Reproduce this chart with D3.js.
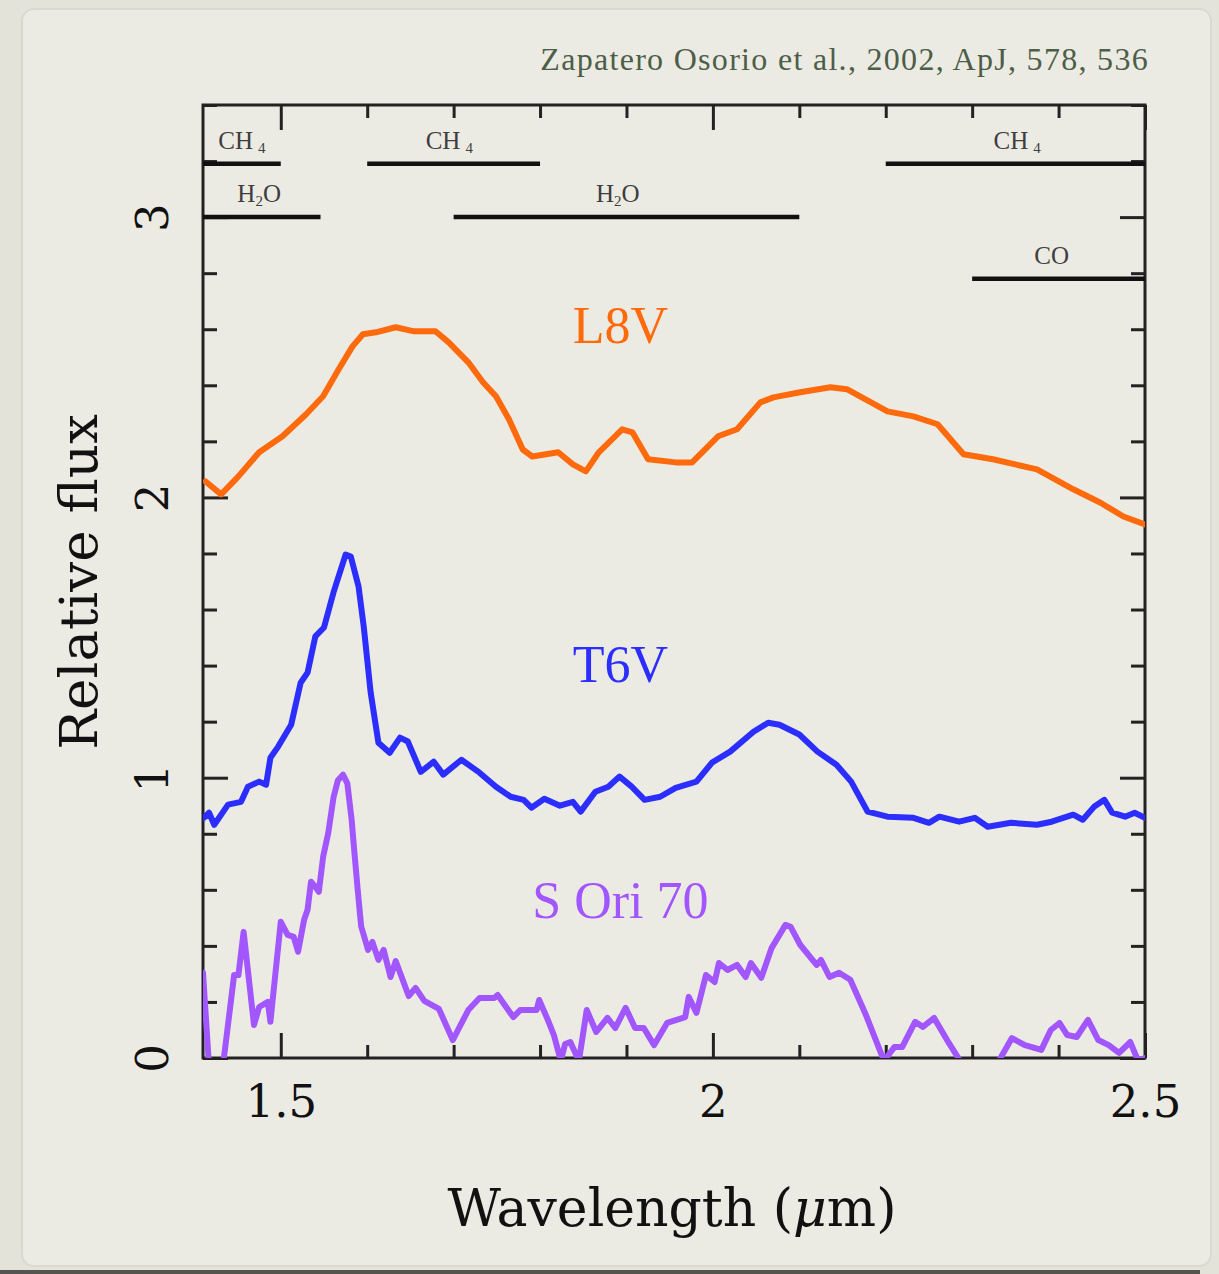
<!DOCTYPE html>
<html>
<head>
<meta charset="utf-8">
<script src="https://cdn.jsdelivr.net/npm/d3@7"></script>
<style>
  html, body { margin: 0; padding: 0; background: #e4e3da; }
  svg { display: block; }
</style>
</head>
<body>
<svg id="chart"></svg>
<script>
// spectra (wavelength in micron, relative flux)
const l8vWave = [1.413, 1.431, 1.451, 1.475, 1.502, 1.529, 1.549, 1.567, 1.583, 1.595, 1.610, 1.633, 1.653, 1.679, 1.694, 1.717, 1.734, 1.749, 1.764, 1.780, 1.791, 1.821, 1.838, 1.853, 1.868, 1.895, 1.907, 1.925, 1.957, 1.976, 2.006, 2.028, 2.055, 2.070, 2.101, 2.136, 2.155, 2.202, 2.232, 2.260, 2.290, 2.324, 2.375, 2.417, 2.448, 2.475, 2.500];
const l8vFlux = [2.057, 2.011, 2.075, 2.161, 2.218, 2.296, 2.361, 2.457, 2.539, 2.582, 2.589, 2.607, 2.593, 2.593, 2.554, 2.482, 2.411, 2.361, 2.279, 2.171, 2.146, 2.161, 2.118, 2.093, 2.161, 2.243, 2.232, 2.136, 2.125, 2.125, 2.218, 2.243, 2.339, 2.357, 2.375, 2.393, 2.386, 2.307, 2.289, 2.261, 2.154, 2.136, 2.100, 2.029, 1.982, 1.932, 1.904];

const t6vWave = [1.411, 1.417, 1.423, 1.439, 1.454, 1.462, 1.475, 1.483, 1.488, 1.497, 1.512, 1.523, 1.531, 1.540, 1.550, 1.561, 1.575, 1.581, 1.590, 1.596, 1.604, 1.613, 1.626, 1.638, 1.647, 1.662, 1.677, 1.688, 1.709, 1.730, 1.749, 1.766, 1.781, 1.790, 1.805, 1.823, 1.838, 1.847, 1.864, 1.879, 1.892, 1.906, 1.921, 1.939, 1.957, 1.981, 1.999, 2.020, 2.047, 2.064, 2.077, 2.100, 2.121, 2.143, 2.160, 2.179, 2.202, 2.232, 2.250, 2.262, 2.285, 2.303, 2.318, 2.345, 2.375, 2.392, 2.417, 2.428, 2.441, 2.453, 2.462, 2.477, 2.488, 2.500];
const t6vFlux = [0.857, 0.875, 0.832, 0.904, 0.914, 0.968, 0.986, 0.975, 1.071, 1.111, 1.189, 1.339, 1.375, 1.504, 1.536, 1.661, 1.796, 1.789, 1.682, 1.539, 1.304, 1.125, 1.089, 1.143, 1.129, 1.021, 1.057, 1.011, 1.064, 1.018, 0.968, 0.932, 0.921, 0.893, 0.925, 0.900, 0.914, 0.879, 0.950, 0.968, 1.004, 0.968, 0.921, 0.932, 0.964, 0.986, 1.054, 1.093, 1.164, 1.196, 1.189, 1.154, 1.093, 1.046, 0.986, 0.879, 0.861, 0.857, 0.839, 0.861, 0.843, 0.857, 0.825, 0.839, 0.832, 0.843, 0.868, 0.850, 0.896, 0.921, 0.875, 0.861, 0.875, 0.857];

const soriWave = [1.410, 1.417, 1.433, 1.446, 1.451, 1.457, 1.469, 1.475, 1.485, 1.488, 1.500, 1.508, 1.515, 1.520, 1.527, 1.531, 1.535, 1.540, 1.544, 1.549, 1.555, 1.561, 1.566, 1.572, 1.577, 1.582, 1.585, 1.589, 1.593, 1.601, 1.606, 1.613, 1.619, 1.627, 1.633, 1.648, 1.656, 1.666, 1.683, 1.699, 1.717, 1.730, 1.747, 1.751, 1.769, 1.777, 1.796, 1.799, 1.809, 1.816, 1.824, 1.829, 1.835, 1.845, 1.854, 1.865, 1.878, 1.887, 1.899, 1.910, 1.920, 1.932, 1.947, 1.968, 1.972, 1.981, 1.992, 2.002, 2.007, 2.017, 2.028, 2.038, 2.044, 2.056, 2.068, 2.084, 2.090, 2.101, 2.120, 2.125, 2.135, 2.146, 2.159, 2.177, 2.198, 2.210, 2.219, 2.234, 2.243, 2.256, 2.271, 2.286, 2.303, 2.321, 2.331, 2.346, 2.361, 2.380, 2.391, 2.401, 2.410, 2.421, 2.434, 2.446, 2.458, 2.470, 2.483, 2.492, 2.500];
const soriFlux = [0.304, -0.03, -0.03, 0.296, 0.296, 0.450, 0.118, 0.182, 0.200, 0.129, 0.486, 0.439, 0.432, 0.379, 0.493, 0.529, 0.629, 0.611, 0.593, 0.718, 0.804, 0.929, 0.990, 1.011, 0.980, 0.850, 0.740, 0.600, 0.470, 0.386, 0.414, 0.350, 0.386, 0.289, 0.346, 0.221, 0.250, 0.204, 0.175, 0.064, 0.171, 0.214, 0.214, 0.225, 0.146, 0.171, 0.171, 0.207, 0.136, 0.082, -0.01, 0.050, 0.057, -0.01, 0.171, 0.093, 0.143, 0.107, 0.179, 0.107, 0.107, 0.046, 0.125, 0.146, 0.218, 0.161, 0.296, 0.271, 0.339, 0.314, 0.332, 0.289, 0.339, 0.286, 0.393, 0.475, 0.468, 0.404, 0.332, 0.350, 0.289, 0.304, 0.279, 0.154, -0.01, 0.039, 0.039, 0.129, 0.111, 0.143, 0.064, -0.01, -0.08, -0.06, -0.01, 0.071, 0.046, 0.029, 0.100, 0.125, 0.082, 0.075, 0.136, 0.064, 0.046, 0.018, 0.057, -0.01, 0.0];

// absorption bands along the top
const bandNames = ["CH4", "CH4", "CH4", "H2O", "H2O", "CO"];
const bandStart = [1.41, 1.60, 2.20, 1.41, 1.70, 2.30];
const bandEnd = [1.50, 1.80, 2.50, 1.546, 2.10, 2.50];
const bandLevel = [3.19, 3.19, 3.19, 3.0, 3.0, 2.78];
const bandLabelAt = [1.455, 1.695, 2.352, 1.475, 1.890, 2.392];

const xMajor = [1.5, 2, 2.5];
const yMajor = [0, 1, 2, 3];

const width = 1219;
const height = 1274;
const margin = { left: 203, right: 1145, top: 105, bottom: 1058 };

const svg = d3.select("#chart").attr("width", width).attr("height", height);

// page panel
svg.append("rect").attr("width", width).attr("height", height).attr("fill", "#e4e3da");
svg.append("rect")
  .attr("x", 22).attr("y", 9).attr("width", 1189).attr("height", 1257)
  .attr("rx", 12)
  .attr("fill", "#ecebe3")
  .attr("stroke", "#dad9d0")
  .attr("stroke-width", 2);
svg.append("rect").attr("x", 0).attr("y", 1270).attr("width", 1200).attr("height", 4).attr("fill", "#55554f");

svg.append("text")
  .attr("x", 1149).attr("y", 70)
  .attr("text-anchor", "end")
  .attr("font-family", "Liberation Serif")
  .attr("font-size", 32)
  .attr("letter-spacing", 1.3)
  .attr("fill", "#4d5e48")
  .text("Zapatero Osorio et al., 2002, ApJ, 578, 536");

const x = d3.scaleLinear().domain([1.41, 2.5]).range([margin.left, margin.right]);
const y = d3.scaleLinear().domain([0, 3.4]).range([margin.bottom, margin.top]);

const xMinor = d3.range(1.5, 2.55, 0.1).map((d) => +d.toFixed(1)).filter((d) => !xMajor.includes(d));
const yMinor = d3.range(0, 3.41, 0.2).map((d) => +d.toFixed(1)).filter((d) => !yMajor.includes(d));

const axisColor = "#222";

function styleAxis(g) {
  g.select(".domain").remove();
  g.selectAll("line").attr("stroke", axisColor).attr("stroke-width", 3);
}

// minor ticks, all four sides, pointing inward
svg.append("g").attr("transform", `translate(0,${margin.bottom})`)
  .call(d3.axisBottom(x).tickValues(xMinor).tickSize(-13).tickFormat("")).call(styleAxis);
svg.append("g").attr("transform", `translate(0,${margin.top})`)
  .call(d3.axisTop(x).tickValues(xMinor).tickSize(-13).tickFormat("")).call(styleAxis);
svg.append("g").attr("transform", `translate(${margin.left},0)`)
  .call(d3.axisLeft(y).tickValues(yMinor).tickSize(-14).tickFormat("")).call(styleAxis);
svg.append("g").attr("transform", `translate(${margin.right},0)`)
  .call(d3.axisRight(y).tickValues(yMinor).tickSize(-14).tickFormat("")).call(styleAxis);

// major ticks with labels
const xAxis = svg.append("g").attr("transform", `translate(0,${margin.bottom})`)
  .call(d3.axisBottom(x).tickValues(xMajor).tickSize(-25).tickPadding(27).tickFormat(d3.format("")))
  .call(styleAxis);
xAxis.selectAll("text")
  .attr("font-family", "DejaVu Serif")
  .attr("font-size", 45)
  .attr("fill", "#111");

svg.append("g").attr("transform", `translate(0,${margin.top})`)
  .call(d3.axisTop(x).tickValues(xMajor).tickSize(-25).tickFormat("")).call(styleAxis);

const yAxis = svg.append("g").attr("transform", `translate(${margin.left},0)`)
  .call(d3.axisLeft(y).tickValues(yMajor).tickSize(-25).tickFormat(d3.format("d")))
  .call(styleAxis);
yAxis.selectAll("text")
  .attr("x", null)
  .attr("dy", null)
  .attr("text-anchor", "middle")
  .attr("transform", "translate(-35,0) rotate(-90)")
  .attr("font-family", "DejaVu Serif")
  .attr("font-size", 45)
  .attr("fill", "#111");

svg.append("g").attr("transform", `translate(${margin.right},0)`)
  .call(d3.axisRight(y).tickValues(yMajor).tickSize(-25).tickFormat("")).call(styleAxis);

// frame
svg.append("rect")
  .attr("x", margin.left).attr("y", margin.top)
  .attr("width", margin.right - margin.left).attr("height", margin.bottom - margin.top)
  .attr("fill", "none")
  .attr("stroke", axisColor)
  .attr("stroke-width", 3);

// axis titles
const xTitle = svg.append("text")
  .attr("x", 672).attr("y", 1226)
  .attr("text-anchor", "middle")
  .attr("font-family", "DejaVu Serif")
  .attr("font-size", 52)
  .attr("fill", "#111");
xTitle.append("tspan").text("Wavelength (");
xTitle.append("tspan").attr("font-style", "italic").text("μ");
xTitle.append("tspan").text("m)");

svg.append("text")
  .attr("transform", "translate(97,582) rotate(-90)")
  .attr("text-anchor", "middle")
  .attr("font-family", "DejaVu Serif")
  .attr("font-size", 53)
  .attr("fill", "#111")
  .text("Relative flux");

// absorption band markers
const bands = bandNames.map((name, i) => ({
  name, start: bandStart[i], end: bandEnd[i], level: bandLevel[i], at: bandLabelAt[i]
}));

svg.append("g").selectAll("line")
  .data(bands)
  .enter()
  .append("line")
  .attr("x1", (d) => x(d.start))
  .attr("x2", (d) => x(d.end))
  .attr("y1", (d) => y(d.level))
  .attr("y2", (d) => y(d.level))
  .attr("stroke", "#111")
  .attr("stroke-width", 4.5);

const bandText = svg.append("g").selectAll("text")
  .data(bands)
  .enter()
  .append("text")
  .attr("x", (d) => x(d.at))
  .attr("y", (d) => y(d.level) - 15)
  .attr("text-anchor", "middle")
  .attr("font-family", "Liberation Serif")
  .attr("font-size", 25)
  .attr("fill", "#3e3e3e");

bandText.each(function (d) {
  const t = d3.select(this);
  if (d.name === "CH4") {
    t.append("tspan").text("CH");
    t.append("tspan").attr("dx", 5).attr("dy", 4).attr("font-size", 15).text("4");
  } else if (d.name === "H2O") {
    t.append("tspan").text("H");
    t.append("tspan").attr("dy", 4).attr("font-size", 15).text("2");
    t.append("tspan").attr("dy", -4).text("O");
  } else {
    t.text(d.name);
  }
});

// spectra
svg.append("clipPath").attr("id", "plot-clip")
  .append("rect")
  .attr("x", margin.left).attr("y", margin.top)
  .attr("width", margin.right - margin.left).attr("height", margin.bottom - margin.top);

const series = [
  { name: "L8V", wave: l8vWave, flux: l8vFlux, color: "#ff6a0d", labelY: 2.55 },
  { name: "T6V", wave: t6vWave, flux: t6vFlux, color: "#2b2eff", labelY: 1.34 },
  { name: "S Ori 70", wave: soriWave, flux: soriFlux, color: "#a156ff", labelY: 0.5 }
];

const line = d3.line()
  .x((d) => x(d[0]))
  .y((d) => y(d[1]));

svg.append("g").attr("clip-path", "url(#plot-clip)")
  .selectAll("path")
  .data(series)
  .enter()
  .append("path")
  .attr("d", (d) => line(d3.zip(d.wave, d.flux)))
  .attr("fill", "none")
  .attr("stroke", (d) => d.color)
  .attr("stroke-width", 6)
  .attr("stroke-linejoin", "round")
  .attr("stroke-linecap", "round");

svg.append("g").selectAll("text")
  .data(series)
  .enter()
  .append("text")
  .attr("x", x(1.893))
  .attr("y", (d) => y(d.labelY))
  .attr("text-anchor", "middle")
  .attr("font-family", "Liberation Serif")
  .attr("font-size", 52)
  .attr("fill", (d) => d.color)
  .text((d) => d.name);
</script>
</body>
</html>
